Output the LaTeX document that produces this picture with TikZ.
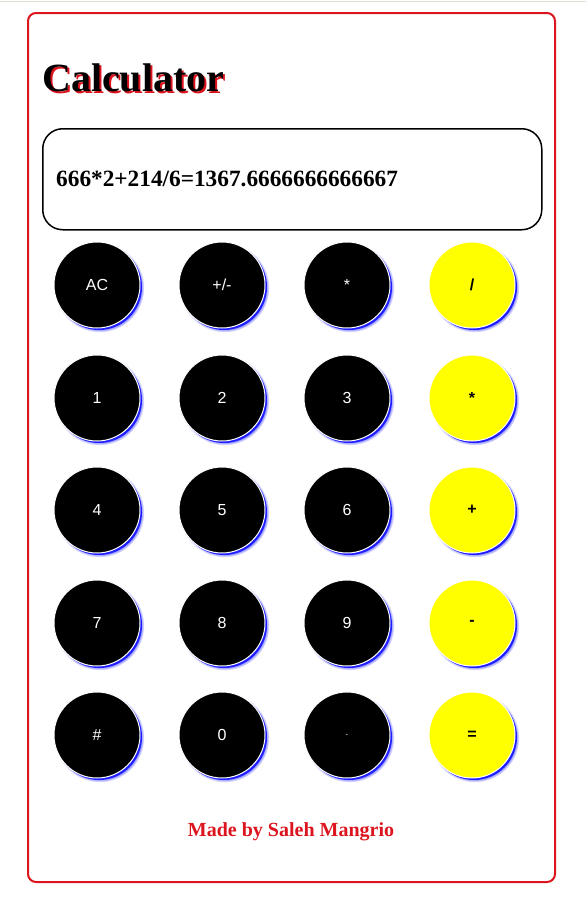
\documentclass[tikz,border=0pt]{standalone}
\usepackage{fontspec}
\setmainfont{Liberation Serif}
\newfontfamily\keyfont{Liberation Sans}
\usetikzlibrary{shadows}
\definecolor{myred}{RGB}{220,20,30}
\definecolor{myyellow}{RGB}{255,255,0}
\definecolor{myshadow}{RGB}{30,30,255}
\definecolor{mygrey}{RGB}{226,223,212}

\begin{document}
\begin{tikzpicture}
				[x=1pt,y=-1pt,
				key/.style={circle,draw=white,line width=1pt,minimum size=86pt,inner sep=0pt,
					circular drop shadow={fill=myshadow,opacity=1,shadow scale=1.04,shadow xshift=2.5pt,shadow yshift=-2.5pt},
					drop shadow={fill=myshadow,opacity=1,shadow xshift=2pt,shadow yshift=-2pt}},
				numkey/.style={key,fill=black,text=white,font=\keyfont\fontsize{16}{16}\selectfont},
				opkey/.style={key,fill=myyellow,text=black,font=\keyfont\bfseries\fontsize{16}{16}\selectfont}]
				\useasboundingbox (0,0) rectangle (586,910);
				\draw[mygrey] (0,1.5) -- (586,1.5);
				\draw[myred,line width=2pt,rounded corners=8pt] (28,13) rectangle (555,882);
				
				\node[anchor=base west,inner sep=0pt,text=myred,font=\bfseries\fontsize{40}{40}\selectfont] (titleshadow) at (44,93) {Calculator};
				\node[anchor=base west,inner sep=0pt,font=\bfseries\fontsize{40}{40}\selectfont] (title) at (42,91) {Calculator};
				
				\node[draw,line width=1.5pt,rounded corners=20pt,minimum width=499pt,minimum height=101pt,anchor=north west] (screen) at (42,128) {};
				\node[anchor=base west,inner sep=0pt,font=\bfseries\fontsize{23.3}{23.3}\selectfont] (result) at (56,186) {666*2+214/6=1367.6666666666667};
				
				\node[numkey] (ac) at (97,285)  {AC};
				\node[numkey] (sign) at (222,285)  {+/-};
				\node[numkey] (star) at (347,285)  {*};
				\node[opkey] (divide) at (472,285)  {/};
				\node[numkey] (1) at (97,398)  {1};
				\node[numkey] (2) at (222,398)  {2};
				\node[numkey] (3) at (347,398)  {3};
				\node[opkey] (times) at (472,398)  {*};
				\node[numkey] (4) at (97,510)  {4};
				\node[numkey] (5) at (222,510)  {5};
				\node[numkey] (6) at (347,510)  {6};
				\node[opkey] (plus) at (472,510)  {+};
				\node[numkey] (7) at (97,623)  {7};
				\node[numkey] (8) at (222,623)  {8};
				\node[numkey] (9) at (347,623)  {9};
				\node[opkey] (minus) at (472,623)  {-};
				\node[numkey] (hash) at (97,735)  {\#};
				\node[numkey] (0) at (222,735)  {0};
				\node[numkey,font=\keyfont\fontsize{10}{10}\selectfont] (dot) at (347,735)  {.};
				\node[opkey] (equals) at (472,735)  {=};
				
				\node[anchor=base,inner sep=0pt,text=myred,font=\bfseries\fontsize{20}{20}\selectfont] (credit) at (291,836) {Made by Saleh Mangrio};
				\end{tikzpicture}
\end{document}
